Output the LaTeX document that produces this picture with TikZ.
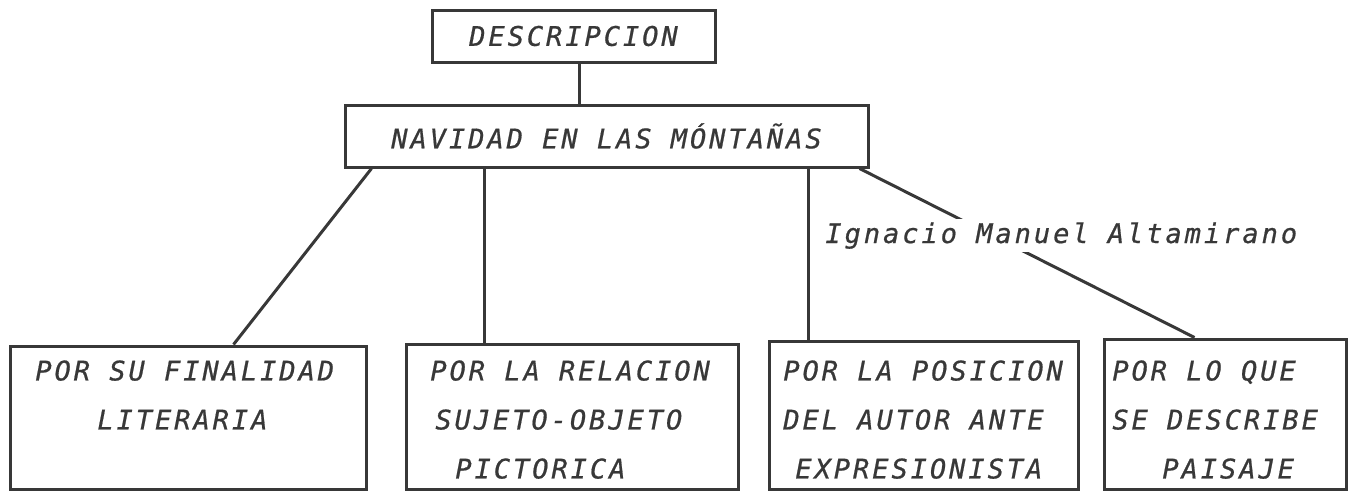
\documentclass[tikz,border=0pt]{standalone}
\usepackage{fontspec}
\newfontfamily\tw[LetterSpace=11,FakeBold=0.7]{DejaVu Sans Mono}
\definecolor{ink}{HTML}{383838}
\begin{document}
\begin{tikzpicture}[x=0.5pt,y=-0.5pt,
  every node/.style={font=\tw\itshape\fontsize{13.5pt}{24.5pt}\selectfont, text=ink},
  box/.style={draw=ink, line width=1.5pt, rectangle, inner sep=0pt},
  txt/.style={inner sep=0pt, align=left, anchor=north west},
  conn/.style={draw=ink, line width=1.5pt}]
\useasboundingbox (0,0) rectangle (1352,493);

% boxes
\node[box, minimum width=141.5pt, minimum height=26pt] (D) at (573.5,36) {DESCRIPCION};
\node[box, minimum width=261.5pt, minimum height=31pt] (N) at (606.5,136) {NAVIDAD EN LAS MÓNTAÑAS};
\node[box, minimum width=178pt, minimum height=71.5pt] (b1) at (188,417.5) {};
\node[box, minimum width=166pt, minimum height=72.5pt] (b2) at (572,416.5) {};
\node[box, minimum width=154.5pt, minimum height=74pt] (b3) at (923.5,415) {};
\node[box, minimum width=121pt, minimum height=75pt] (b4) at (1225,414) {};

% box texts
\node[txt] (t1) at (35,360) {POR SU FINALIDAD\\\hspace{31pt}LITERARIA};
\node[txt] (t2) at (430,360) {POR LA RELACION\\\hspace{2.5pt}SUJETO-OBJETO\\\hspace{12.5pt}PICTORICA};
\node[txt] (t3) at (783,360) {POR LA POSICION\\DEL AUTOR ANTE\\\hspace{6pt}EXPRESIONISTA};
\node[txt] (t4) at (1112,360) {POR LO QUE\\SE DESCRIBE\\\hspace{25pt}PAISAJE};

% connectors
\draw[conn] ([xshift=2.75pt]D.south) -- ([xshift=2.75pt]D.south |- N.north);
\draw[conn] ([xshift=14pt]N.south west) -- ([xshift=112.5pt]b1.north west);
\draw[conn] ([xshift=70.5pt]N.south west) -- ([xshift=70.5pt]N.south west |- b2.north);
\draw[conn] ([xshift=232.5pt]N.south west) -- ([xshift=232.5pt]N.south west |- b3.north);
\draw[conn] ([xshift=-5pt]N.south east) -- ([xshift=46pt]b4.north west);

% author label interrupting the last connector
\node[fill=white, inner xsep=0pt, inner ysep=1.5pt, anchor=base west] (lab) at (825,243) {Ignacio Manuel Altamirano};
\end{tikzpicture}
\end{document}
